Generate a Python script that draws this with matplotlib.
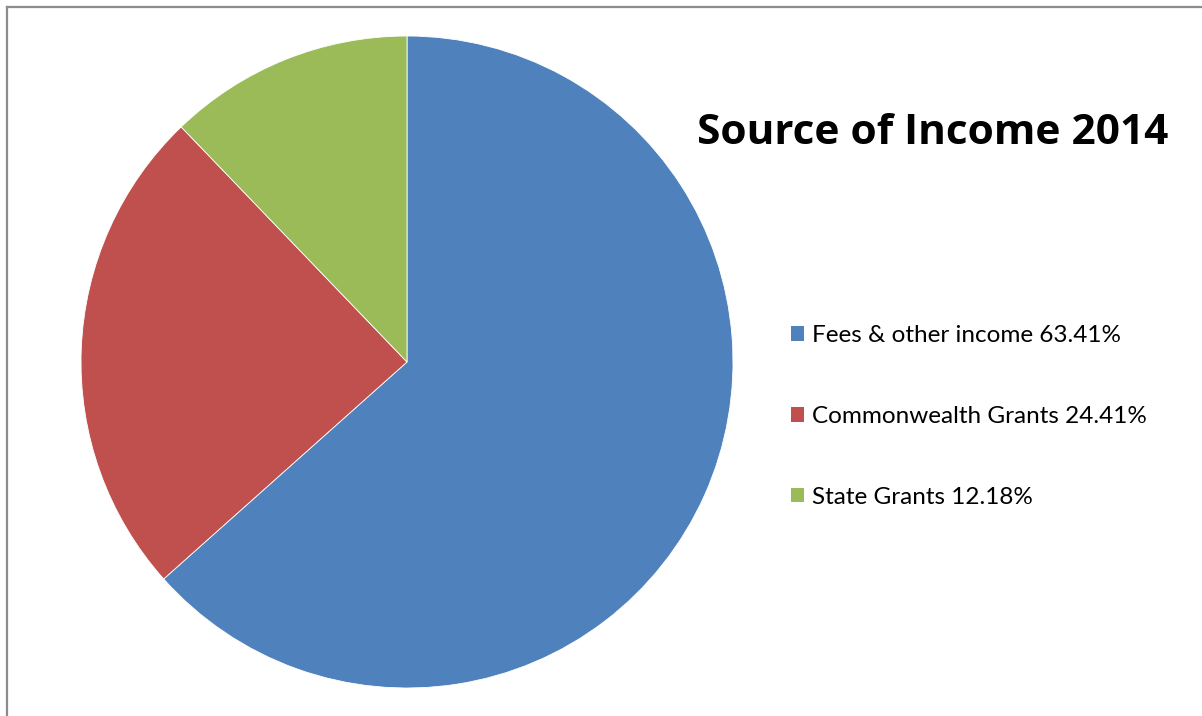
import matplotlib.pyplot as plt
from matplotlib.lines import Line2D
from matplotlib.patches import Patch

# data
labels = ['Fees & other income', 'Commonwealth Grants', 'State Grants']
shares = [63.41, 24.41, 12.18]
colors = ['#4F81BD', '#C0504D', '#9BBB59']

W, H = 1202, 716
fig = plt.figure(figsize=(W / 100, H / 100), dpi=100)

# pie area, centre ~ (407, 362) px, radius ~326 px
ax = fig.add_axes([81 / W, (H - 688) / H, 652 / W, 652 / H])
ax.pie(shares, colors=colors, startangle=90, counterclock=False, radius=1,
       wedgeprops=dict(linewidth=0.6, edgecolor='white'))
ax.set_xlim(-1, 1)
ax.set_ylim(-1, 1)
ax.set_aspect('auto')
ax.axis('off')

fig.text(933 / W, 1 - 133 / H, 'Source of Income 2014', ha='center', va='center',
         fontsize=30.5, fontweight='bold', family=['Open Sans', 'DejaVu Sans'])

handles = [Patch(facecolor=c, edgecolor='none') for c in colors]
legend_labels = [f'{l} {v:.2f}%' for l, v in zip(labels, shares)]
fig.legend(handles, legend_labels, loc='upper left',
           bbox_to_anchor=(791 / W, 1 - 325 / H), frameon=False,
           prop=dict(family=['Lato', 'DejaVu Sans'], size=17.5),
           handlelength=0.55, handleheight=0.55, handletextpad=0.3,
           labelspacing=2.46, borderpad=0, borderaxespad=0)

# outer chart border (left and top visible)
fig.add_artist(Line2D([7 / W, 7 / W], [0, 1 - 7 / H], color='#8c8c8c', lw=1.6))
fig.add_artist(Line2D([7 / W, 1], [1 - 7 / H, 1 - 7 / H], color='#8c8c8c', lw=1.6))

fig.savefig('out.png', dpi=100)
